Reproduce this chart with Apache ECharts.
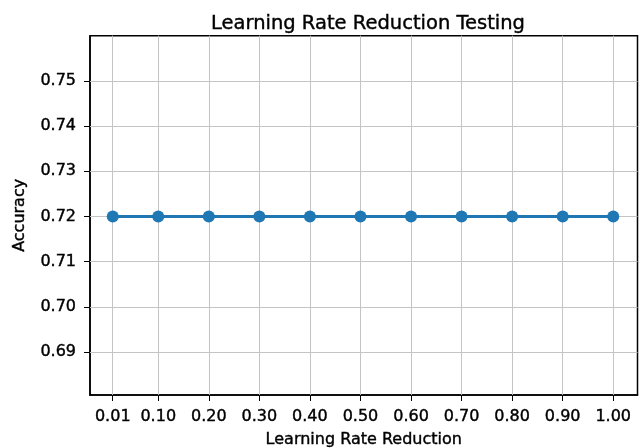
<!DOCTYPE html>
<html>
<head>
<meta charset="utf-8">
<script src="https://cdn.jsdelivr.net/npm/echarts@6/dist/echarts.min.js"></script>
<style>
  html, body { margin: 0; padding: 0; background: #fff; }
  #chart { width: 641px; height: 448px; }
</style>
</head>
<body>
<div id="chart"></div>
<script>
// Learning-rate reduction factors that were tried, and the accuracy reached with each
const reductionFactors = [0.01, 0.10, 0.20, 0.30, 0.40, 0.50, 0.60, 0.70, 0.80, 0.90, 1.00];
const accuracy = [0.72, 0.72, 0.72, 0.72, 0.72, 0.72, 0.72, 0.72, 0.72, 0.72, 0.72];
const yTicks = [0.69, 0.70, 0.71, 0.72, 0.73, 0.74, 0.75];

const FONT = 'DejaVu Sans';
const GRID_COLOR = '#c4c4c4';
// slight outline on the text gives it a heavier, print-like weight
const textWeight = { textBorderColor: '#000', textBorderWidth: 0.4 };

const chart = echarts.init(document.getElementById('chart'), null, { renderer: 'canvas' });

const points = reductionFactors.map((x, i) => [x, accuracy[i]]);

chart.setOption({
  animation: false,
  backgroundColor: '#ffffff',
  title: {
    text: 'Learning Rate Reduction Testing',
    left: 363,
    textAlign: 'center',
    top: 9,
    textStyle: Object.assign({ fontFamily: FONT, fontSize: 19.5, fontWeight: 'normal', color: '#000' }, textWeight)
  },
  grid: {
    left: 90, right: 3.5, top: 35.7, bottom: 53,
    outerBoundsMode: 'none',
    containLabel: false,
    show: true, borderColor: '#000', borderWidth: 1.5, backgroundColor: 'transparent'
  },
  xAxis: {
    type: 'value',
    min: -0.035,
    max: 1.048,
    name: 'Learning Rate Reduction',
    nameLocation: 'middle',
    nameGap: 37,
    nameTextStyle: Object.assign({ fontFamily: FONT, fontSize: 16, color: '#000' }, textWeight),
    axisLine: { show: true, onZero: false, lineStyle: { color: '#000', width: 1.5 } },
    axisTick: { show: true, length: 6, customValues: reductionFactors, lineStyle: { color: '#000' } },
    axisLabel: Object.assign({
      customValues: reductionFactors,
      margin: 14,
      fontFamily: FONT, fontSize: 16, color: '#000',
      formatter: v => v.toFixed(2)
    }, textWeight),
    splitLine: { show: false }
  },
  yAxis: {
    type: 'value',
    min: 0.6805,
    max: 0.76,
    name: 'Accuracy',
    nameLocation: 'middle',
    nameGap: 62,
    nameRotate: 90,
    nameTextStyle: Object.assign({ fontFamily: FONT, fontSize: 16, color: '#000' }, textWeight),
    axisLine: { show: true, onZero: false, lineStyle: { color: '#000', width: 1.5 } },
    axisTick: { show: true, length: 6, customValues: yTicks, lineStyle: { color: '#000' } },
    axisLabel: Object.assign({
      customValues: yTicks,
      margin: 14,
      fontFamily: FONT, fontSize: 16, color: '#000',
      formatter: v => v.toFixed(2)
    }, textWeight),
    splitLine: { show: false }
  },
  series: [
    {
      // grid lines at every tick, kept beneath the data line
      type: 'line',
      z: 1,
      data: [],
      silent: true,
      markLine: {
        z: 1,
        silent: true,
        symbol: 'none',
        label: { show: false },
        lineStyle: { color: GRID_COLOR, width: 1, type: 'solid' },
        data: reductionFactors.map(x => ({ xAxis: x }))
          .concat(yTicks.map(y => ({ yAxis: y })))
      }
    },
    {
      type: 'line',
      z: 3,
      data: points,
      symbol: 'circle',
      symbolSize: 12,
      lineStyle: { color: '#1f77b4', width: 3 },
      itemStyle: { color: '#1f77b4' }
    }
  ]
});
</script>
</body>
</html>
